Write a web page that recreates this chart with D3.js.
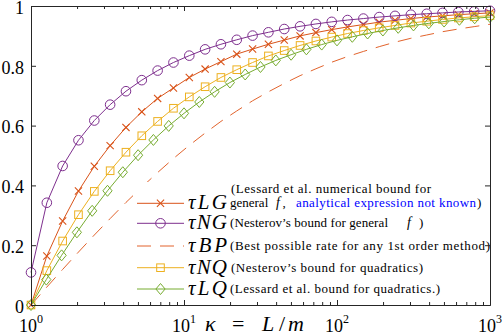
<!DOCTYPE html>
<html>
<head>
<meta charset="utf-8">
<script src="https://cdn.jsdelivr.net/npm/d3@7"></script>
<style>
  body { margin: 0; background: #fff; }
  svg { display: block; }
  text { font-family: "Liberation Serif", "Times New Roman", serif; }
</style>
</head>
<body>
<div id="container"></div>
<script>
/* CONSTANTS AND GLOBALS */
const width = 504;
const height = 336;

/* DATA */
// condition numbers, 30-point grid (crosses, circles, squares, dashed) and 31-point grid (diamonds)
const kappa30 = [1, 1.269, 1.610, 2.043, 2.593, 3.290, 4.175, 5.298, 6.723, 8.532,
  10.83, 13.74, 17.43, 22.12, 28.07, 35.62, 45.20, 57.36, 72.79, 92.37,
  117.2, 148.7, 188.7, 239.5, 303.9, 385.7, 489.4, 621.0, 788.1, 1000];
const kappa31 = [1, 1.259, 1.585, 1.995, 2.512, 3.162, 3.981, 5.012, 6.310, 7.943,
  10, 12.59, 15.85, 19.95, 25.12, 31.62, 39.81, 50.12, 63.10, 79.43,
  100, 125.9, 158.5, 199.5, 251.2, 316.2, 398.1, 501.2, 631.0, 794.3, 1000];

const tauLG = [0, 0.164, 0.281, 0.381, 0.464, 0.533, 0.594, 0.646, 0.691, 0.726,
  0.761, 0.789, 0.814, 0.839, 0.856, 0.872, 0.886, 0.900, 0.911, 0.921,
  0.930, 0.938, 0.946, 0.952, 0.958, 0.963, 0.967, 0.971, 0.974, 0.977];
const tauNG = [0.109, 0.342, 0.465, 0.551, 0.617, 0.670, 0.715, 0.752, 0.784, 0.811,
  0.834, 0.855, 0.872, 0.887, 0.901, 0.912, 0.923, 0.932, 0.940, 0.947,
  0.953, 0.958, 0.963, 0.967, 0.971, 0.974, 0.977, 0.980, 0.982, 0.984];
const tauBP = [0, 0.060, 0.119, 0.177, 0.234, 0.289, 0.343, 0.394, 0.443, 0.490,
  0.534, 0.575, 0.614, 0.649, 0.683, 0.713, 0.741, 0.767, 0.790, 0.812,
  0.831, 0.848, 0.864, 0.879, 0.892, 0.903, 0.914, 0.923, 0.931, 0.939];
const tauNQ = [0, 0.115, 0.214, 0.302, 0.380, 0.449, 0.511, 0.566, 0.614, 0.658,
  0.696, 0.730, 0.761, 0.787, 0.811, 0.833, 0.851, 0.868, 0.883, 0.896,
  0.908, 0.918, 0.927, 0.935, 0.943, 0.949, 0.955, 0.960, 0.964, 0.968];
const tauLQ = [0, 0.085, 0.166, 0.243, 0.315, 0.382, 0.444, 0.501, 0.552, 0.599,
  0.641, 0.679, 0.713, 0.744, 0.771, 0.796, 0.818, 0.837, 0.855, 0.871,
  0.885, 0.897, 0.908, 0.918, 0.927, 0.935, 0.942, 0.948, 0.954, 0.959, 0.963];

const yTicks = [0, 0.2, 0.4, 0.6, 0.8, 1];
const xTicks = [1, 10, 100, 1000];
const xTickExp = ["0", "1", "2", "3"];

const series = [
  { name: "LG", x: kappa30, y: tauLG, color: "#D95319", marker: "x", dash: null },
  { name: "NG", x: kappa30, y: tauNG, color: "#7E2F8E", marker: "o", dash: null },
  { name: "BP", x: kappa30, y: tauBP, color: "#E2632C", marker: null, dash: "14,9" },
  { name: "NQ", x: kappa30, y: tauNQ, color: "#EDB120", marker: "s", dash: null },
  { name: "LQ", x: kappa31, y: tauLQ, color: "#77AC30", marker: "d", dash: null }
];

const svg = d3.select("#container")
  .append("svg")
  .attr("width", width)
  .attr("height", height)
  .style("background-color", "white");

/* SCALES */
const xScale = d3.scaleLog().domain([1, 1000]).range([31, 490]);
const yScale = d3.scaleLinear().domain([0, 1]).range([305, 6]);

/* MARKERS */
function drawMarker(g, type, cx, cy, color) {
  if (type === "o") {
    g.append("circle").attr("cx", cx).attr("cy", cy).attr("r", 4.8)
      .attr("fill", "none").attr("stroke", color).attr("stroke-width", 1);
  } else if (type === "s") {
    g.append("rect").attr("x", cx - 3.8).attr("y", cy - 3.8).attr("width", 7.6).attr("height", 7.6)
      .attr("fill", "none").attr("stroke", color).attr("stroke-width", 1);
  } else if (type === "d") {
    g.append("path").attr("d", `M${cx},${cy - 5.5}L${cx + 4.6},${cy}L${cx},${cy + 5.5}L${cx - 4.6},${cy}Z`)
      .attr("fill", "none").attr("stroke", color).attr("stroke-width", 1);
  } else if (type === "x") {
    const s = 3.6;
    g.append("path").attr("d", `M${cx - s},${cy - s}L${cx + s},${cy + s}M${cx - s},${cy + s}L${cx + s},${cy - s}`)
      .attr("fill", "none").attr("stroke", color).attr("stroke-width", 1.1);
  }
}

/* LINES */
const line = d3.line().x(d => xScale(d[0])).y(d => yScale(d[1]));

series.forEach(s => {
  const pts = s.x.map((k, i) => [k, s.y[i]]);
  const g = svg.append("g").attr("class", "series-" + s.name);
  g.append("path")
    .datum(pts)
    .attr("d", line)
    .attr("fill", "none")
    .attr("stroke", s.color)
    .attr("stroke-width", 1)
    .attr("stroke-dasharray", s.dash);
  if (s.marker) {
    pts.forEach(p => drawMarker(g, s.marker, xScale(p[0]), yScale(p[1]), s.color));
  }
});

/* LEGEND */
const leg = svg.append("g").attr("class", "legend");
leg.append("rect").attr("x", 133).attr("y", 182).attr("width", 355).attr("height", 119).attr("fill", "white");

const legY = [203.3, 223.3, 246, 267.7, 289];
series.forEach((s, i) => {
  const cy = legY[i];
  leg.append("line").attr("x1", 137).attr("x2", 184).attr("y1", cy).attr("y2", cy)
    .attr("stroke", s.color).attr("stroke-width", 1).attr("stroke-dasharray", s.dash);
  if (s.marker) drawMarker(leg, s.marker, 160.5, cy, s.color);
  leg.append("text")
    .attr("x", 188).attr("y", cy + 6)
    .attr("font-size", 21).attr("font-style", "italic")
    .attr("textLength", 39).attr("lengthAdjust", "spacing")
    .text("τ" + s.name);
});

const desc = leg.append("g").attr("font-size", 13).attr("fill", "#000");
// LG entry, two lines
desc.append("text").attr("x", 231).attr("y", 192.5)
  .attr("textLength", 200).attr("lengthAdjust", "spacing")
  .text("(Lessard et al. numerical bound for");
const t2 = desc.append("text").attr("y", 207);
t2.append("tspan").attr("x", 230).text("general");
t2.append("tspan").attr("x", 276).attr("font-style", "italic").attr("font-size", 14).text("f");
t2.append("tspan").attr("x", 282.5).text(",");
t2.append("tspan").attr("x", 296).attr("fill", "#0000FF")
  .attr("textLength", 180).attr("lengthAdjust", "spacing")
  .text("analytical expression not known");
t2.append("tspan").attr("x", 477).text(")");
// NG
const t3 = desc.append("text").attr("y", legY[1] + 4);
t3.append("tspan").attr("x", 230).attr("textLength", 158).attr("lengthAdjust", "spacing")
  .text("(Nesterov’s bound for general");
t3.append("tspan").attr("x", 407).attr("font-style", "italic").attr("font-size", 14).text("f");
t3.append("tspan").attr("x", 419).text(")");
// BP
desc.append("text").attr("x", 230).attr("y", legY[2] + 4)
  .attr("textLength", 260).attr("lengthAdjust", "spacing")
  .text("(Best possible rate for any 1st order method)");
// NQ
desc.append("text").attr("x", 231).attr("y", legY[3] + 4)
  .attr("textLength", 192).attr("lengthAdjust", "spacing")
  .text("(Nesterov’s bound for quadratics)");
// LQ
desc.append("text").attr("x", 230).attr("y", legY[4] + 4)
  .attr("textLength", 210).attr("lengthAdjust", "spacing")
  .text("(Lessard et al. bound for quadratics.)");

/* AXES */
const axisColor = "#262626";
const minorTicks = [];
[1, 10, 100].forEach(b => d3.range(2, 10).forEach(m => minorTicks.push(b * m)));

function styleAxis(g) {
  g.selectAll("path").attr("stroke", axisColor).attr("stroke-width", 1);
  g.selectAll("line").attr("stroke", axisColor).attr("stroke-width", 1);
}

// bottom
svg.append("g").attr("transform", "translate(0,305)")
  .call(d3.axisBottom(xScale).tickValues(xTicks).tickSizeInner(-5).tickSizeOuter(0).tickFormat(""))
  .call(styleAxis);
svg.append("g").attr("transform", "translate(0,305)")
  .call(d3.axisBottom(xScale).tickValues(minorTicks).tickSizeInner(-3).tickSizeOuter(0).tickFormat(""))
  .call(styleAxis);
// top
svg.append("g").attr("transform", "translate(0,6)")
  .call(d3.axisTop(xScale).tickValues(xTicks).tickSizeInner(-5).tickSizeOuter(0).tickFormat(""))
  .call(styleAxis);
svg.append("g").attr("transform", "translate(0,6)")
  .call(d3.axisTop(xScale).tickValues(minorTicks).tickSizeInner(-3).tickSizeOuter(0).tickFormat(""))
  .call(styleAxis);
// left
const yLeft = svg.append("g").attr("transform", "translate(31,0)")
  .call(d3.axisLeft(yScale).tickValues(yTicks).tickSizeInner(-5).tickSizeOuter(0).tickPadding(7)
    .tickFormat(d => d === 0 ? "0" : d === 1 ? "1" : d3.format(".1f")(d)))
  .call(styleAxis);
yLeft.selectAll("text")
  .attr("font-family", "Liberation Serif, serif")
  .attr("font-size", 18).attr("fill", "#000")
  .attr("dy", "0.4em");
// right
svg.append("g").attr("transform", "translate(490,0)")
  .call(d3.axisRight(yScale).tickValues(yTicks).tickSizeInner(-5).tickSizeOuter(0).tickFormat(""))
  .call(styleAxis);

// x tick labels 10^k
const xl = svg.append("g").attr("class", "xlabels");
xTicks.forEach((v, i) => {
  const t = xl.append("text")
    .attr("x", xScale(v)).attr("y", 332)
    .attr("text-anchor", "middle")
    .attr("font-size", 18).attr("fill", "#000");
  t.append("tspan").text("10");
  t.append("tspan").attr("font-size", 12).attr("dy", -9).text(xTickExp[i]);
});

// x axis title  κ = L/m
const xt = svg.append("text").attr("y", 331).attr("font-size", 22).attr("fill", "#000");
xt.append("tspan").attr("x", 205).attr("font-style", "italic").text("κ");
xt.append("tspan").attr("x", 232).text("=");
xt.append("tspan").attr("x", 262).attr("font-style", "italic").text("L");
xt.append("tspan").attr("x", 279).text("/");
xt.append("tspan").attr("x", 288).attr("font-style", "italic").text("m");
</script>
</body>
</html>
